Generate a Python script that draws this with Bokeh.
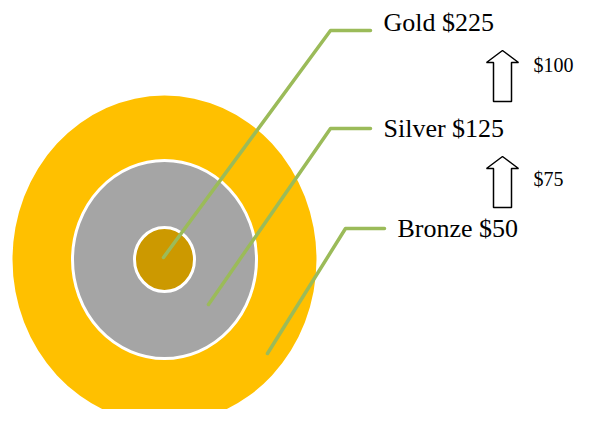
from bokeh.plotting import figure
from bokeh.models import Range1d
from bokeh.core.properties import value
from bokeh.embed import file_html
from bokeh.resources import INLINE

# ---- data ----
tiers = ["Gold", "Silver", "Bronze"]
prices = [225, 125, 50]
ring_colors = ["#CC9900", "#A5A5A5", "#FFC000"]
diffs = [prices[i] - prices[i + 1] for i in range(len(prices) - 1)]  # 100, 75
diff_labels = ["$" + str(d) for d in diffs]
tier_labels = [f"{t} ${p}" for t, p in zip(tiers, prices)]

# ---- layout (picture pixel coordinates) ----
W, H = 575, 409
p = figure(width=W, height=H, output_backend="svg", toolbar_location=None,
           x_range=Range1d(0, W), y_range=Range1d(H, 0),
           min_border=0, outline_line_color=None)
p.axis.visible = False
p.grid.visible = False

# rings: drawn outer -> inner
cx, cy = 164, 259
ring_w = [60, 184, 304]
ring_h = [64, 198, 328]
ring_line = [3, 3, 0]
for i in [2, 1, 0]:
    p.ellipse(x=[cx], y=[cy], width=[ring_w[i]], height=[ring_h[i]],
              fill_color=ring_colors[i],
              line_color="white" if ring_line[i] else None,
              line_width=ring_line[i] if ring_line[i] else 1)

# leader lines
starts = [(163, 257), (208, 304), (267, 353)]
elbows = [(330, 30), (330, 128), (345, 228)]
ends = [370, 370, 384]
xs = [[s[0], e[0], end] for s, e, end in zip(starts, elbows, ends)]
ys = [[s[1], e[1], e[1]] for s, e in zip(starts, elbows)]
p.multi_line(xs=xs, ys=ys, line_color="#9BBB59", line_width=3.5,
             line_join="round", line_cap="round")

# tier labels
lx = [383, 383, 397]
ly = [22, 128, 228]
p.text(x=lx, y=ly, text=tier_labels, text_font=value("Liberation Serif"),
       text_font_size="26px", text_align="left", text_baseline="alphabetic",
       text_color="black")

# arrows between tiers
ax = 502
tips = [50, 156]
bottoms = [101, 207]
head_h, head_half, shaft_half = 12, 16, 9
axs, ays = [], []
for t, b in zip(tips, bottoms):
    hb = t + head_h
    axs.append([ax, ax + head_half, ax + shaft_half, ax + shaft_half,
                ax - shaft_half, ax - shaft_half, ax - head_half])
    ays.append([t, hb, hb, b, b, hb, hb])
p.patches(xs=axs, ys=ays, fill_color="white", line_color="black", line_width=1.5)

p.text(x=[533, 533], y=[64, 178], text=diff_labels,
       text_font=value("Liberation Serif"), text_font_size="20px",
       text_align="left", text_baseline="alphabetic", text_color="black")

open("out.html", "w").write(file_html(p, INLINE))
